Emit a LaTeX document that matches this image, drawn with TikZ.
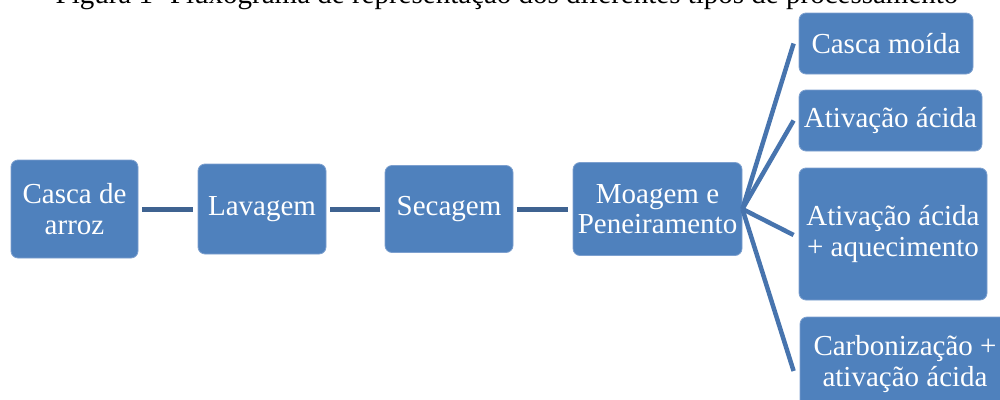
\documentclass[tikz,border=0pt]{standalone}
\usepackage{fontspec}
\setmainfont{Liberation Serif}
\definecolor{boxfill}{HTML}{4F81BD}
\definecolor{boxedge}{HTML}{7DA0CF}
\definecolor{hline}{HTML}{3F6391}
\definecolor{fline}{HTML}{4774AE}
\tikzset{
  box/.style={draw=boxedge, line width=0.8pt, fill=boxfill, rounded corners=7pt,
    text=white, font=\fontsize{29}{30.5}\selectfont, align=center, inner sep=0pt},
  hlink/.style={draw=hline, line width=5pt, shorten <=4pt, shorten >=5pt},
  flink/.style={draw=fline, line width=4.5pt},
}
\begin{document}
\begin{tikzpicture}[x=1pt,y=-1pt]
\clip (0,0) rectangle (1000,399);
\fill[white] (0,0) rectangle (1000,399);
\node[anchor=base, font=\fontsize{29}{30}\selectfont, inner sep=0pt] (title) at (507,3)
  {Figura 1- Fluxograma de representação dos diferentes tipos de processamento};
\node[box, minimum width=127pt, minimum height=98pt] (casca) at (74.5,209) {Casca de\\arroz};
\node[box, minimum width=128pt, minimum height=90pt] (lav) at (262,209) {Lavagem};
\node[box, minimum width=128pt, minimum height=87pt] (sec) at (449,209) {Secagem};
\node[box, minimum width=169pt, minimum height=93pt] (moag) at (657.5,209) {Moagem e\\Peneiramento};
\node[box, minimum width=174pt, minimum height=61pt] (cm) at (886,43.5) {Casca moída};
\node[box, minimum width=183pt, minimum height=61pt] (aa) at (890.5,120.5) {Ativação ácida};
\node[box, minimum width=188pt, minimum height=132pt] (aq) at (893,234) {Ativação ácida\\+ aquecimento};
\node[box, minimum width=210pt, minimum height=94pt] (carb) at (905,364) {Carbonização +\\ativação ácida};
\draw[hlink] (casca.east) -- (lav.west);
\draw[hlink] (lav.east) -- (sec.west);
\draw[hlink] (sec.east) -- (moag.west);
\draw[flink] (moag.east) -- ([xshift=-5pt]cm.west);
\draw[flink] (moag.east) -- ([xshift=-5pt]aa.west);
\draw[flink] (moag.east) -- ([xshift=-5pt,yshift=-1pt]aq.west);
\draw[flink] (moag.east) -- ([xshift=-6pt,yshift=-7pt]carb.west);
\end{tikzpicture}
\end{document}
